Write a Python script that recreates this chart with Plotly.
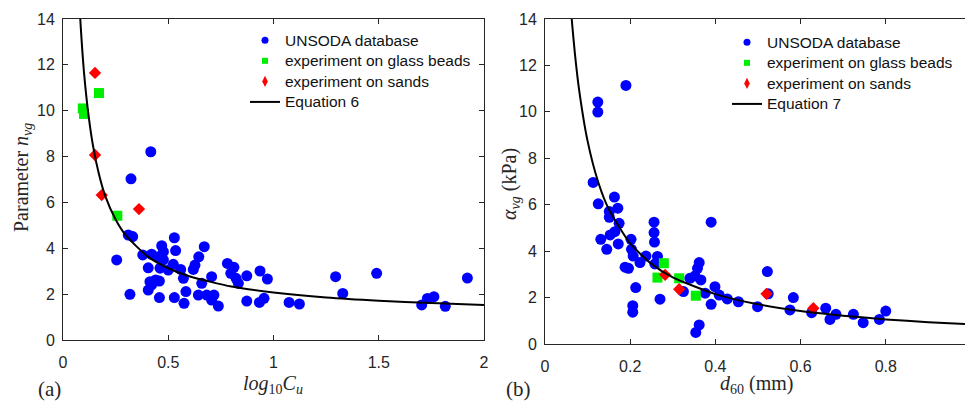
import plotly.graph_objects as go

# ---------------- data: panel (a) ----------------
a_unsoda_x = [0.417, 0.323, 0.310, 0.331, 0.255, 0.318, 0.529, 0.535, 0.469, 0.477, 0.421, 0.379,
              0.671, 0.645, 0.627, 0.619, 0.453, 0.477, 0.524, 0.559, 0.405, 0.461, 0.500, 0.572,
              0.458, 0.421, 0.405, 0.584, 0.458, 0.529, 0.575, 0.659, 0.706, 0.643, 0.683, 0.717,
              0.706, 0.738, 0.781, 0.812, 0.797, 0.833, 0.822, 0.873, 0.873, 0.936, 0.971, 0.933,
              0.955, 1.074, 1.123, 1.295, 1.329, 1.490, 1.704, 1.731, 1.762, 1.816, 1.921, 0.413, 0.440]
a_unsoda_y = [8.21, 7.03, 4.58, 4.51, 3.49, 1.99, 4.46, 3.90, 4.11, 3.85, 3.74, 3.71,
              4.07, 3.63, 3.27, 3.08, 3.63, 3.49, 3.30, 3.08, 3.15, 3.13, 3.05, 2.69,
              2.57, 2.40, 2.18, 2.11, 1.85, 1.85, 1.60, 2.47, 2.76, 1.96, 1.96, 1.96,
              1.74, 1.48, 3.34, 3.17, 2.91, 2.47, 2.69, 2.80, 1.70, 3.01, 2.66, 1.64,
              1.82, 1.64, 1.57, 2.76, 2.03, 2.91, 1.53, 1.81, 1.89, 1.47, 2.70, 2.54, 2.62]
a_glass_x = [0.094, 0.100, 0.171, 0.258]
a_glass_y = [10.10, 9.86, 10.77, 5.42]
a_sand_x = [0.152, 0.152, 0.184, 0.361]
a_sand_y = [11.65, 8.07, 6.32, 5.71]
a_eq_x = [0.076, 0.084, 0.10, 0.12, 0.144, 0.17, 0.20, 0.25, 0.30, 0.40, 0.50, 0.60, 0.80,
          1.00, 1.25, 1.50, 1.75, 2.00]
a_eq_y = [15.0, 13.7, 11.65, 9.9, 8.4, 7.26, 6.3, 5.26, 4.55, 3.66, 3.13, 2.78, 2.33,
          2.07, 1.85, 1.71, 1.61, 1.53]

# ---------------- data: panel (b) ----------------
b_unsoda_x = [0.190, 0.124, 0.124, 0.113, 0.125, 0.163, 0.171, 0.151, 0.151, 0.174, 0.131, 0.153,
              0.164, 0.145, 0.172, 0.202, 0.203, 0.207, 0.223, 0.237, 0.188, 0.196, 0.256, 0.256,
              0.257, 0.264, 0.258, 0.390, 0.213, 0.270, 0.206, 0.206, 0.362, 0.358, 0.352, 0.340,
              0.366, 0.325, 0.376, 0.399, 0.409, 0.428, 0.454, 0.390, 0.362, 0.354, 0.499, 0.522,
              0.524, 0.583, 0.575, 0.626, 0.659, 0.669, 0.683, 0.724, 0.747, 0.785, 0.800]
b_unsoda_y = [11.14, 10.42, 9.99, 6.96, 6.04, 6.33, 5.85, 5.71, 5.46, 5.20, 4.51, 4.70,
              4.84, 4.08, 4.31, 4.51, 4.08, 3.79, 3.51, 3.79, 3.31, 3.26, 5.25, 4.80,
              4.39, 3.77, 3.45, 5.25, 2.43, 1.93, 1.65, 1.37, 3.51, 3.26, 2.93, 2.83,
              2.76, 2.26, 2.19, 2.47, 2.11, 1.94, 1.82, 1.71, 0.82, 0.50, 1.61, 3.12,
              2.16, 2.00, 1.47, 1.35, 1.54, 1.06, 1.28, 1.28, 0.92, 1.06, 1.42]
b_glass_x = [0.279, 0.264, 0.315, 0.354]
b_glass_y = [3.48, 2.86, 2.83, 2.08]
b_sand_x = [0.282, 0.315, 0.520, 0.630]
b_sand_y = [2.98, 2.36, 2.16, 1.54]
b_eq_x = [0.060, 0.0627, 0.070, 0.080, 0.10, 0.125, 0.15, 0.20, 0.25, 0.30, 0.40, 0.50,
          0.60, 0.70, 0.80, 0.90, 0.986]
b_eq_y = [14.66, 14.0, 12.54, 10.96, 8.74, 6.97, 5.80, 4.33, 3.45, 2.87, 2.15, 1.71,
          1.42, 1.22, 1.06, 0.94, 0.86]

legend_names = ["UNSODA database", "experiment on glass beads", "experiment on sands"]
eq_names = ["Equation 6", "Equation 7"]

BLUE = "#0000ff"
GREEN = "#00ee00"
RED = "#ff0000"
AX = "#262626"
SANS = "Liberation Sans, Arial, sans-serif"
SERIF = "Liberation Serif, Times New Roman, serif"


def big(s):
    return '<span style="font-size:15.5px">' + s + '</span>'


fig = go.Figure()

def add_panel(xa, ya, leg, ux, uy, gx, gy, sx, sy, ex, ey, eqname):
    fig.add_trace(go.Scatter(x=ux, y=uy, mode="markers", xaxis=xa, yaxis=ya, showlegend=False,
                             marker=dict(color=BLUE, size=11, symbol="circle")))
    fig.add_trace(go.Scatter(x=gx, y=gy, mode="markers", xaxis=xa, yaxis=ya, showlegend=False,
                             marker=dict(color=GREEN, size=10, symbol="square")))
    fig.add_trace(go.Scatter(x=sx, y=sy, mode="markers", xaxis=xa, yaxis=ya, showlegend=False,
                             marker=dict(color=RED, size=9.5, symbol="diamond")))
    fig.add_trace(go.Scatter(x=ex, y=ey, mode="lines", xaxis=xa, yaxis=ya, showlegend=False,
                             line=dict(color="black", width=2, shape="spline", smoothing=0.6)))
    # legend entries
    fig.add_trace(go.Scatter(x=[None], y=[None], mode="markers", xaxis=xa, yaxis=ya, legend=leg,
                             name=big(legend_names[0]), marker=dict(color=BLUE, size=7, symbol="circle")))
    fig.add_trace(go.Scatter(x=[None], y=[None], mode="markers", xaxis=xa, yaxis=ya, legend=leg,
                             name=big(legend_names[1]), marker=dict(color=GREEN, size=6, symbol="square")))
    fig.add_trace(go.Scatter(x=[None], y=[None], mode="markers", xaxis=xa, yaxis=ya, legend=leg,
                             name=big(legend_names[2]), marker=dict(color=RED, size=8, symbol="diamond-tall")))
    fig.add_trace(go.Scatter(x=[None], y=[None], mode="lines", xaxis=xa, yaxis=ya, legend=leg,
                             name=big(eqname), line=dict(color="black", width=2)))

add_panel("x", "y", "legend", a_unsoda_x, a_unsoda_y, a_glass_x, a_glass_y, a_sand_x, a_sand_y,
          a_eq_x, a_eq_y, eq_names[0])
add_panel("x2", "y2", "legend2", b_unsoda_x, b_unsoda_y, b_glass_x, b_glass_y, b_sand_x, b_sand_y,
          b_eq_x, b_eq_y, eq_names[1])

W, H = 965, 402
common = dict(showgrid=False, zeroline=False, showline=True, linecolor=AX, linewidth=1,
              ticks="inside", ticklen=5, tickcolor=AX, tickwidth=1, automargin=False,
              tickfont=dict(family=SANS, size=16, color=AX))
tfont = dict(family=SERIF, size=20, color=AX)

fig.update_layout(
    width=W, height=H, margin=dict(l=0, r=0, t=0, b=0, autoexpand=False),
    paper_bgcolor="white", plot_bgcolor="white",
    xaxis=dict(domain=[63 / W, 484 / W], range=[0, 2], tickvals=[0, 0.5, 1, 1.5, 2],
               ticktext=["0", "0.5", "1", "1.5", "2"], mirror="ticks", anchor="y",
               ticklabelstandoff=8, **common),
    yaxis=dict(domain=[62 / H, 383 / H], range=[0, 14], tickvals=list(range(0, 15, 2)),
               mirror="ticks", anchor="x", ticklabelstandoff=4, **common),
    xaxis2=dict(domain=[545 / W, 1.0], range=[0, 0.986], tickvals=[0, 0.2, 0.4, 0.6, 0.8],
                ticktext=["0", "0.2", "0.4", "0.6", "0.8"], mirror="ticks", anchor="y2",
                ticklabelstandoff=8, **common),
    yaxis2=dict(domain=[58 / H, 383 / H], range=[0, 14], tickvals=list(range(0, 15, 2)),
                mirror=False, anchor="x2", ticklabelstandoff=4, **common),
    legend=dict(x=245 / W, y=1 - 25 / H, xanchor="left", yanchor="top",
                bgcolor="rgba(0,0,0,0)", borderwidth=0,
                font=dict(family=SANS, size=13.5, color="#111111"), tracegroupgap=0),
    legend2=dict(x=727 / W, y=1 - 27 / H, xanchor="left", yanchor="top",
                 bgcolor="rgba(0,0,0,0)", borderwidth=0,
                 font=dict(family=SANS, size=13.5, color="#111111"), tracegroupgap=0),
    annotations=[
        # axis titles
        dict(text="<i>log</i><sub>10</sub><i>C</i><sub><i>u</i></sub>", x=273 / W, y=1 - 384 / H,
             xref="paper", yref="paper", showarrow=False, xanchor="center", yanchor="middle",
             font=tfont),
        dict(text="Parameter <i>n</i><sub><i>vg</i></sub>", x=22 / W, y=1 - 178 / H, textangle=-90,
             xref="paper", yref="paper", showarrow=False, xanchor="center", yanchor="middle",
             font=tfont),
        dict(text="<i>d</i><sub>60</sub> (mm)", x=756 / W, y=1 - 384 / H,
             xref="paper", yref="paper", showarrow=False, xanchor="center", yanchor="middle",
             font=tfont),
        dict(text="<i>α</i><sub><i>vg</i></sub> (kPa)", x=510 / W, y=1 - 184 / H, textangle=-90,
             xref="paper", yref="paper", showarrow=False, xanchor="center", yanchor="middle",
             font=tfont),
        # panel labels
        dict(text="(a)", x=49 / W, y=1 - 389 / H, xref="paper", yref="paper", showarrow=False,
             xanchor="center", yanchor="middle", font=dict(family=SERIF, size=21, color=AX)),
        dict(text="(b)", x=518 / W, y=1 - 389 / H, xref="paper", yref="paper", showarrow=False,
             xanchor="center", yanchor="middle", font=dict(family=SERIF, size=21, color=AX)),
    ],
)

fig.write_html("out.html")
